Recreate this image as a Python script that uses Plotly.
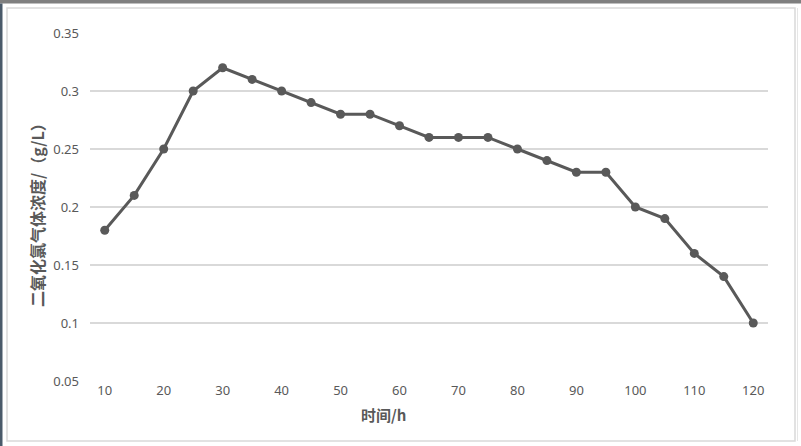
import plotly.graph_objects as go

# time (h) and chlorine dioxide gas concentration (g/L)
hours = [10, 15, 20, 25, 30, 35, 40, 45, 50, 55, 60, 65,
         70, 75, 80, 85, 90, 95, 100, 105, 110, 115, 120]
conc = [0.18, 0.21, 0.25, 0.30, 0.32, 0.31, 0.30, 0.29, 0.28, 0.28, 0.27, 0.26,
        0.26, 0.26, 0.25, 0.24, 0.23, 0.23, 0.20, 0.19, 0.16, 0.14, 0.10]
x_labels = [str(h) for h in hours]
x_ticks = [str(h) for h in hours if h % 10 == 0]
y_ticks = [0.05, 0.1, 0.15, 0.2, 0.25, 0.3, 0.35]
y_ticktext = ["0.05", "0.1", "0.15", "0.2", "0.25", "0.3", "0.35"]

W, H = 801, 446
L, R, T, B = 90, 33, 33, 65
pw, ph = W - L - R, H - T - B


def px(x):
    return (x - L) / pw


def py(y):
    return (H - B - y) / ph


fig = go.Figure()
fig.add_trace(go.Scatter(
    x=x_labels, y=conc, mode="lines+markers",
    line=dict(color="#595959", width=3),
    marker=dict(color="#595959", size=9),
    showlegend=False, cliponaxis=False,
))

fig.update_layout(
    width=W, height=H,
    margin=dict(l=L, r=R, t=T, b=B),
    paper_bgcolor="white", plot_bgcolor="white",
    font=dict(family="Noto Sans, Noto Sans CJK SC", color="#595959", size=12),
    xaxis=dict(
        type="category", range=[-0.5, len(hours) - 0.5],
        tickmode="array", tickvals=x_ticks, ticktext=x_ticks,
        showgrid=False, zeroline=False, showline=False, ticks="",
        tickfont=dict(size=13, color="#595959"),
    ),
    yaxis=dict(
        range=[0.05, 0.35], tickmode="array", tickvals=y_ticks, ticktext=y_ticktext,
        showgrid=True, gridcolor="#d9d9d9", gridwidth=1.5,
        zeroline=False, showline=False, ticks="", ticklabelstandoff=10,
        tickfont=dict(size=13, color="#595959"),
    ),
    shapes=[
        # dark strip along the top
        dict(type="rect", xref="paper", yref="paper", x0=px(0), x1=px(W),
             y0=py(3.5), y1=py(0), fillcolor="#7f7f7f", line_width=0, layer="above"),
        # dark strip on the left edge
        dict(type="rect", xref="paper", yref="paper", x0=px(0), x1=px(2.5),
             y0=py(H), y1=py(3.5), fillcolor="#4a5a6a", line_width=0, layer="above"),
        # light chart frame
        dict(type="rect", xref="paper", yref="paper", x0=px(7), x1=px(795),
             y0=py(441), y1=py(8), line=dict(color="#d9d9d9", width=1.5),
             fillcolor="rgba(0,0,0,0)"),
        dict(type="line", xref="paper", yref="paper", x0=px(797.5), x1=px(797.5),
             y0=py(441), y1=py(8), line=dict(color="#e6e6e6", width=1)),
    ],
    annotations=[
        dict(text="<b>时间/h</b>", xref="paper", yref="paper", x=px(383), y=py(414),
             xanchor="center", yanchor="middle", showarrow=False,
             font=dict(family="Noto Sans CJK SC", size=15, color="#595959")),
        dict(text="<b>二氧化氯气体浓度/（g/L）</b>", xref="paper", yref="paper",
             x=px(37), y=py(211), xanchor="center", yanchor="middle",
             textangle=-90, showarrow=False,
             font=dict(family="Noto Sans CJK SC", size=16, color="#595959")),
    ],
)

fig.write_html("out.html", config={"displayModeBar": False},
               post_script="document.body.style.margin='0';")
